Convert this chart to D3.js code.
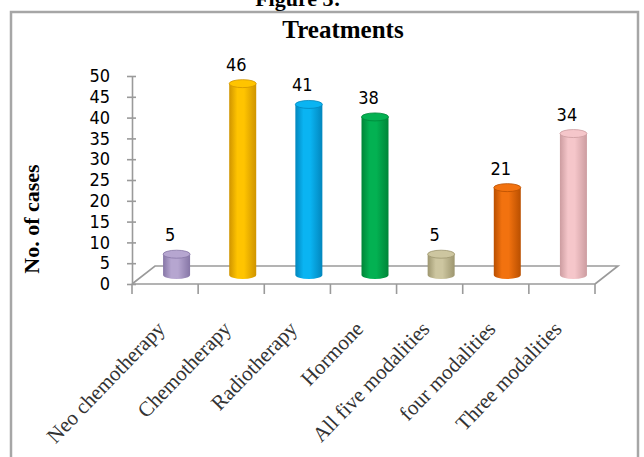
<!DOCTYPE html>
<html>
<head>
<meta charset="utf-8">
<script src="https://cdn.jsdelivr.net/npm/d3@7/dist/d3.min.js"></script>
<style>
  html, body { margin: 0; padding: 0; background: #ffffff; }
  svg { display: block; }
</style>
</head>
<body>
<svg id="chart" width="644" height="457"></svg>
<script>
// Treatment categories and number of cases
const categories = ["Neo chemotherapy", "Chemotherapy", "Radiotherapy", "Hormone",
                    "All five modalities", "four modalities", "Three modalities"];
const cases = [5, 46, 41, 38, 5, 21, 34];
const yTicks = [0, 5, 10, 15, 20, 25, 30, 35, 40, 45, 50];
// Cylinder colours: [face, shaded edge]
const barColors = [
  ["#b6a6d0", "#8676a6"],
  ["#ffc400", "#cf9400"],
  ["#0ab4f2", "#0286bd"],
  ["#03b152", "#008538"],
  ["#cdc6a0", "#9d966f"],
  ["#f2720f", "#b94f00"],
  ["#f5c6ca", "#cc9ca0"]
];

const svg = d3.select("#chart");

// Frame around the chart area
svg.append("rect")
  .attr("x", 11).attr("y", 12).attr("width", 627).attr("height", 460)
  .attr("fill", "#fff").attr("stroke", "#a6a6a6").attr("stroke-width", 2.5);

// Caption above the frame (runs off the page top)
svg.append("text")
  .attr("x", 298).attr("y", 6)
  .attr("text-anchor", "middle")
  .attr("font-family", "Liberation Serif, Times New Roman, serif")
  .attr("font-weight", "bold").attr("font-size", 22)
  .text("Figure 3:");

// Title
svg.append("text")
  .attr("x", 343).attr("y", 38)
  .attr("text-anchor", "middle")
  .attr("font-family", "Liberation Serif, Times New Roman, serif")
  .attr("font-weight", "bold").attr("font-size", 25)
  .attr("fill", "#000")
  .text("Treatments");

// Y-axis title
svg.append("text")
  .attr("transform", "translate(39,219) rotate(-90)")
  .attr("text-anchor", "middle")
  .attr("font-family", "Liberation Serif, Times New Roman, serif")
  .attr("font-weight", "bold").attr("font-size", 22)
  .attr("fill", "#000")
  .text("No. of cases");

// Scales: front edge of the floor
const x = d3.scaleBand().domain(categories).range([132, 595]).paddingInner(0).paddingOuter(0);
const y = d3.scaleLinear().domain([0, 50]).range([284, 76]);
// Depth of the 3-D floor
const depth = { dx: 23, dy: -18 };

const axisColor = "#9a9a9a";

// Floor outline
const x0 = x.range()[0], x1 = x.range()[1], yFloor = y(0);
svg.append("path")
  .attr("d", `M${x0},${yFloor} L${x0 + depth.dx},${yFloor + depth.dy} L${x1 + depth.dx},${yFloor + depth.dy} L${x1},${yFloor}`)
  .attr("fill", "none").attr("stroke", axisColor).attr("stroke-width", 1.6);

// Value axis
const yAxis = svg.append("g")
  .attr("transform", `translate(${x0},0)`)
  .call(d3.axisLeft(y).tickValues(yTicks).tickSize(0).tickPadding(22));
yAxis.select(".domain").attr("stroke", axisColor).attr("stroke-width", 1.6);
yAxis.selectAll(".tick line").attr("x1", -5).attr("x2", 4)
  .attr("stroke", axisColor).attr("stroke-width", 1.6);
yAxis.selectAll(".tick text")
  .attr("font-family", "DejaVu Sans Condensed, DejaVu Sans, sans-serif")
  .attr("font-size", 18).attr("fill", "#000");

// Category axis: line along the front edge, ticks at band boundaries
const catTicks = categories.map(c => x(c)).concat([x1]);
svg.append("line")
  .attr("x1", x0).attr("x2", x1).attr("y1", yFloor).attr("y2", yFloor)
  .attr("stroke", axisColor).attr("stroke-width", 1.6);
svg.selectAll("line.ctick").data(catTicks).enter().append("line")
  .attr("class", "ctick")
  .attr("x1", d => d).attr("x2", d => d)
  .attr("y1", yFloor).attr("y2", yFloor + 10)
  .attr("stroke", axisColor).attr("stroke-width", 1.6);

// Category labels
svg.selectAll("text.clabel").data(categories).enter().append("text")
  .attr("class", "clabel")
  .attr("transform", d => `translate(${x(d) + x.bandwidth() / 2 + 1},${yFloor + 46}) rotate(-46)`)
  .attr("text-anchor", "end")
  .attr("font-family", "Liberation Serif, Times New Roman, serif")
  .attr("font-size", 21)
  .attr("fill", "#333")
  .text(d => d);

// Gradients for cylinders
const defs = svg.append("defs");
barColors.forEach((c, i) => {
  const g = defs.append("linearGradient").attr("id", "cyl" + i)
    .attr("x1", "0%").attr("x2", "100%").attr("y1", "0%").attr("y2", "0%");
  g.append("stop").attr("offset", "0%").attr("stop-color", c[1]);
  g.append("stop").attr("offset", "30%").attr("stop-color", c[0]);
  g.append("stop").attr("offset", "55%").attr("stop-color", c[0]);
  g.append("stop").attr("offset", "100%").attr("stop-color", c[1]);
});

// Cylinders stand in the middle of the floor depth
const barW = 27, ry = 4;
const bars = svg.selectAll("g.bar").data(categories).enter().append("g").attr("class", "bar");
bars.each(function (c, i) {
  const g = d3.select(this);
  const cx = x(c) + x.bandwidth() / 2 + depth.dx / 2;
  const base = y(0) + depth.dy / 2;
  const top = y(cases[i]) + depth.dy / 2;
  // body with rounded bottom
  g.append("path")
    .attr("d", `M${cx - barW / 2},${top} L${cx - barW / 2},${base} A${barW / 2},${ry} 0 0 0 ${cx + barW / 2},${base} L${cx + barW / 2},${top} Z`)
    .attr("fill", `url(#cyl${i})`);
  // top cap
  g.append("ellipse")
    .attr("cx", cx).attr("cy", top).attr("rx", barW / 2).attr("ry", ry)
    .attr("fill", barColors[i][0])
    .attr("stroke", barColors[i][1]).attr("stroke-width", 0.8);
});

// Value labels
svg.selectAll("text.vlabel").data(categories).enter().append("text")
  .attr("class", "vlabel")
  .attr("x", c => x(c) + x.bandwidth() / 2 + 5)
  .attr("y", (c, i) => y(cases[i]) + depth.dy / 2 - 13)
  .attr("text-anchor", "middle")
  .attr("font-family", "DejaVu Sans Condensed, DejaVu Sans, sans-serif")
  .attr("font-size", 18)
  .attr("fill", "#000")
  .text((c, i) => cases[i]);
</script>
</body>
</html>
